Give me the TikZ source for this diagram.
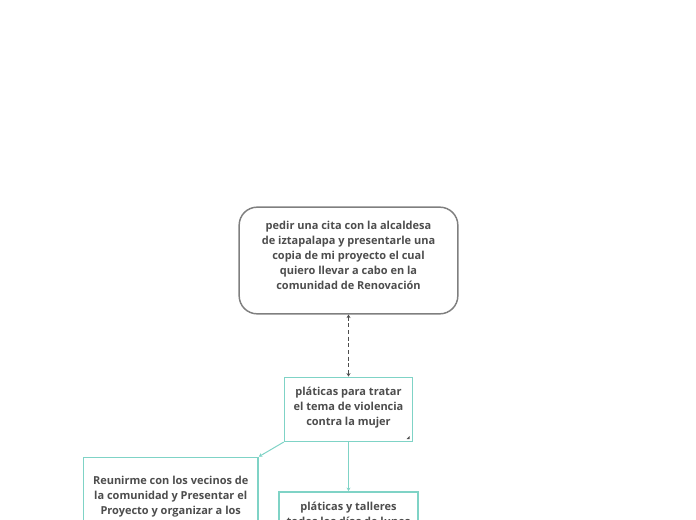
\documentclass[tikz,border=0pt]{standalone}
\usepackage{fontspec}
\setmainfont{Open Sans}
\usepackage{xcolor}
\usepackage{tikz}
\usetikzlibrary{positioning, arrows.meta}

\definecolor{inkgray}{HTML}{4D4D4D}
\definecolor{framegray}{HTML}{7F7F7F}
\definecolor{mint}{HTML}{7FD3C6}

\begin{document}
\begin{tikzpicture}[
  x=0.75pt, y=-0.75pt,
  font=\fontsize{8.25pt}{11.2pt}\selectfont\bfseries,
  text=inkgray,
  root/.style={draw=framegray, line width=1.1pt, rounded corners=13.5pt,
    minimum width=164pt, minimum height=80pt, align=center, fill=white},
  topic/.style={draw=mint, line width=1.1pt, minimum width=96pt,
    minimum height=48pt, align=center, fill=white, inner sep=0pt},
  leaf/.style={draw=mint, line width=1.1pt, align=center, fill=white,
    inner xsep=0pt, text depth=60pt},
  dashlink/.style={densely dashed, inkgray, line width=0.6pt,
    {Stealth[length=2.6pt,width=3pt]}-{Stealth[length=2.6pt,width=3pt]}},
  link/.style={mint, line width=0.75pt, -{Stealth[length=2.6pt,width=3pt]}},
]
  \useasboundingbox (0,0) rectangle (696,520);
  \clip (0,0) rectangle (696,520);

  \node[root] (cita) at (348.5,260.5) {pedir una cita con la alcaldesa\\
    de iztapalapa y presentarle una\\ copia de mi proyecto el cual\\
    quiero llevar a cabo en la\\ comunidad de Renovación\\[-3.75pt]};

  \node[topic, below=46.5pt of cita] (platicas) {pláticas para tratar\\
    el tema de violencia\\ contra la mujer\\[-6.75pt]};
  \fill[inkgray] ([shift={(-5pt,2.2pt)}]platicas.south east) -- ++(2.2pt,0)
    -- ++(0,2.2pt) -- cycle;

  \node[leaf, minimum width=131pt, inner ysep=14pt, anchor=north east,
    below left=11pt and 18.75pt of platicas.south west] (vecinos)
    {Reunirme con los vecinos de\\ la comunidad y Presentar el\\
     Proyecto y organizar a los};
  \node[leaf, minimum width=104pt, inner ysep=8pt, below=36.75pt of platicas]
    (talleres) {pláticas y talleres\\ todos los días de lunes};

  \draw[dashlink] (cita) -- (platicas);
  \draw[link] (platicas.south west) -- (vecinos.north east);
  \draw[link] (platicas) -- (talleres);
\end{tikzpicture}
\end{document}
